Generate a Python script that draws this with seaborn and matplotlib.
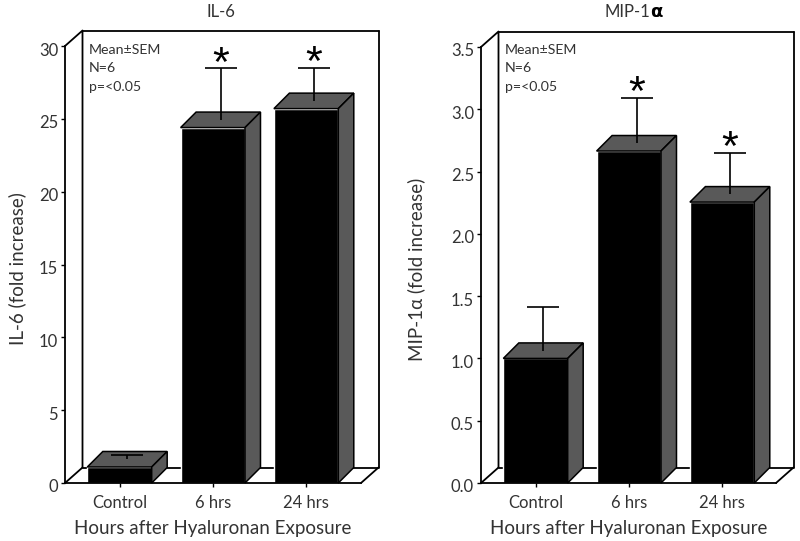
"""IL-6 and MIP-1 alpha fold increase after hyaluronan exposure."""

import matplotlib
matplotlib.use("Agg")
import matplotlib.pyplot as plt
from matplotlib.patches import Polygon
from matplotlib.transforms import ScaledTranslation
import pandas as pd
import seaborn as sns

hours = ["Control", "6 hrs", "24 hrs"]
il6_means = [1.1, 24.4, 25.7]
il6_errs = [0.27, 3.55, 2.27]
il6_ticks = [0, 5, 10, 15, 20, 25, 30]
mip_means = [1.0, 2.665, 2.255]
mip_errs = [0.35, 0.365, 0.335]
mip_ticks = [0.0, 0.5, 1.0, 1.5, 2.0, 2.5, 3.0, 3.5]
note_lines = ["Mean±SEM", "N=6", "p=<0.05"]

W, H = 800, 541
WALL_X, BAR_X, DEPTH_Y = 17.5, 15.5, 15.5  # pixels of fake 3D depth
TEXT = "#333333"
SIDE = "#595959"

sns.set_style("white")
plt.rcParams["font.family"] = ["Lato", "DejaVu Sans"]


def panel(fig, left, right, top, bottom, means, errs, ticks, fmt, ylabel, label_x, stars):
    ax = fig.add_axes([left / W, (H - bottom) / H, (right - left) / W, (bottom - top) / H])
    df = pd.DataFrame({"hours": hours, "value": means})
    sns.barplot(data=df, x="hours", y="value", color="black", saturation=1, width=0.69, ax=ax)

    px_per_cat = 93.3
    x0, x1 = -54.5 / px_per_cat, (right - left - 54.5) / px_per_cat
    ymax = ticks[-1]
    ax.set_xlim(x0, x1)
    ax.set_ylim(0, ymax)
    wx = WALL_X / px_per_cat
    dx = BAR_X / px_per_cat
    dy = DEPTH_Y * ymax / (bottom - top)

    # back wall and floor
    for xs, ys in [
        ([x0 + wx, x1 + wx], [ymax + dy, ymax + dy]),
        ([x0, x0 + wx, x0 + wx], [ymax, ymax + dy, dy]),
        ([x0 + wx, x1 + wx, x1 + wx], [dy, dy, ymax + dy]),
        ([x0, x0 + wx], [0, dy]),
        ([x1, x1 + wx], [0, dy]),
    ]:
        ax.plot(xs, ys, color="black", lw=1.3, clip_on=False, zorder=0.5)

    # fake 3D faces on each bar
    for bar in list(ax.patches):
        bx, bw, bh = bar.get_x(), bar.get_width(), bar.get_height()
        top_face = [(bx, bh), (bx + dx, bh + dy), (bx + bw + dx, bh + dy), (bx + bw, bh)]
        side_face = [(bx + bw, 0), (bx + bw + dx, dy), (bx + bw + dx, bh + dy), (bx + bw, bh)]
        for face in (top_face, side_face):
            ax.add_patch(Polygon(face, closed=True, facecolor=SIDE, edgecolor="black", lw=1.1,
                                 clip_on=False, zorder=2))

    for i, (m, e) in enumerate(zip(means, errs)):
        _, caps, _ = ax.errorbar(i + dx / 2, m + dy / 2, yerr=[[0], [e]], color="black", lw=1.2,
                                 capsize=11.5, capthick=1.2, clip_on=False, zorder=3)
        caps[0].set_visible(False)
        if stars[i]:
            ax.annotate("*", (i + dx / 2, m + dy / 2 + e), xytext=(0, -12), textcoords="offset points",
                        ha="center", va="bottom", fontsize=31, color="black", family="Liberation Sans",
                        annotation_clip=False)

    for y_px, line in zip([50, 68, 87], note_lines):
        fig.text((left + 24) / W, 1 - y_px / H, line, fontsize=10.2, color=TEXT, ha="left", va="center")

    ax.set_xticks(range(len(hours)))
    ax.set_xticklabels(hours)
    ax.set_yticks(ticks)
    ax.set_yticklabels([fmt.format(t) for t in ticks])
    ax.tick_params(axis="both", direction="out", length=3, width=1, color="black",
                   labelsize=12, labelcolor=TEXT, left=True, bottom=True, pad=2)
    ax.tick_params(axis="x", pad=6)
    # the y tick labels sit a little under their ticks in the original
    shift = ScaledTranslation(0, -3 / fig.dpi, fig.dpi_scale_trans)
    for label in ax.get_yticklabels():
        label.set_transform(label.get_transform() + shift)
    ax.set_xlabel("Hours after Hyaluronan Exposure", fontsize=13.5, color=TEXT, labelpad=6)
    ax.set_ylabel(ylabel, fontsize=13.5, color=TEXT)
    ax.yaxis.set_label_coords((label_x - left) / (right - left), 0.49)
    for name in ("top", "right"):
        ax.spines[name].set_visible(False)
    for name in ("left", "bottom"):
        ax.spines[name].set_color("black")
        ax.spines[name].set_linewidth(1.3)
    return ax


fig = plt.figure(figsize=(W / 100, H / 100), dpi=100, facecolor="white")

panel(fig, 65, 361, 46, 483, il6_means, il6_errs, il6_ticks, "{:d}", "IL-6 (fold increase)", 26,
      [False, True, True])
panel(fig, 481, 776, 47, 483, mip_means, mip_errs, mip_ticks, "{:.1f}", "MIP-1α (fold increase)", 425,
      [False, True, True])

fig.text(221 / W, 1 - 12 / H, "IL-6", fontsize=12, color=TEXT, ha="center", va="center")
fig.text(650 / W, 1 - 12 / H, "MIP-1", fontsize=12, color=TEXT, ha="right", va="center")
fig.text(650 / W, 1 - 12 / H, "α", fontsize=13, color="black", fontweight="bold",
         family="DejaVu Sans", ha="left", va="center")

fig.savefig("out.png", dpi=100)
plt.close(fig)
